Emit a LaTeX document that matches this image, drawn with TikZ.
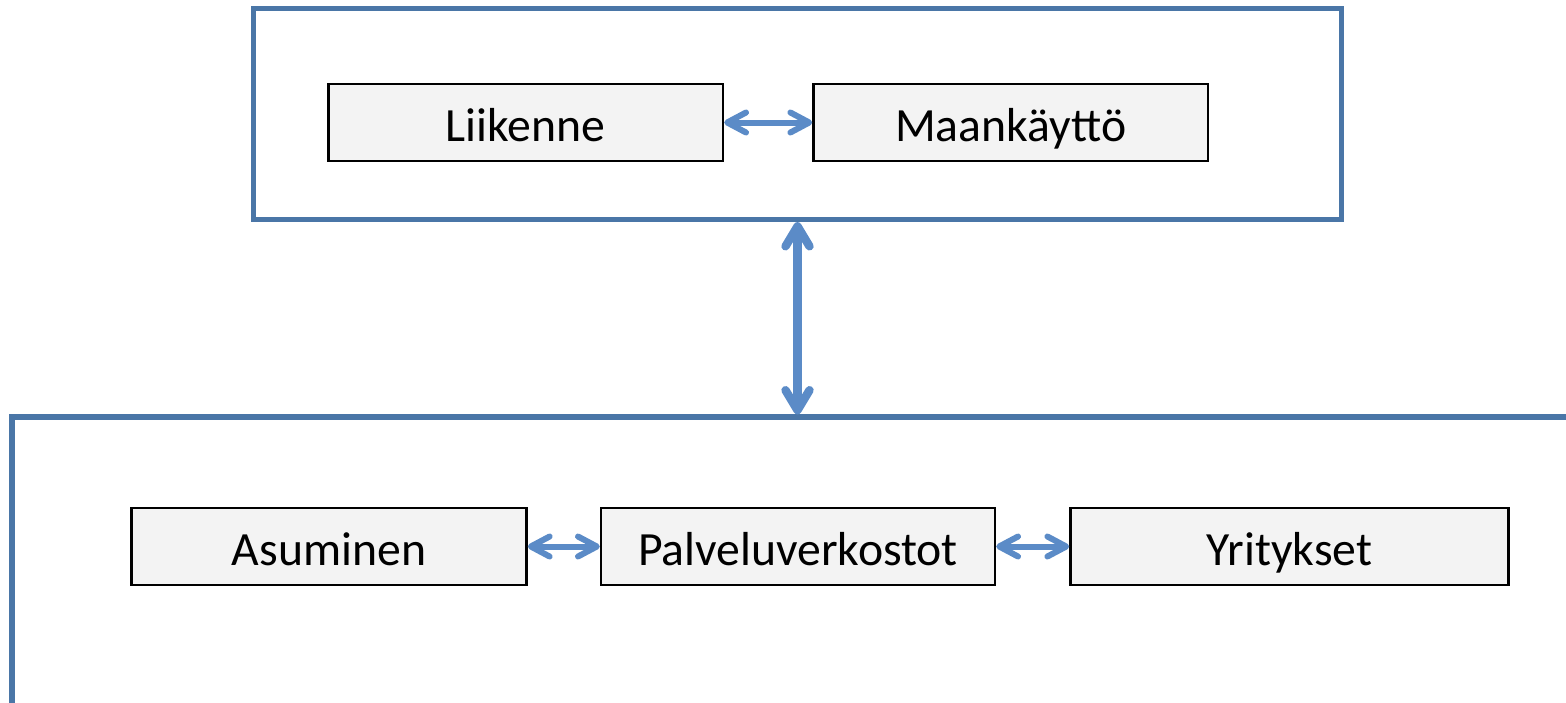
\documentclass[tikz,border=0pt]{standalone}
\usepackage{fontspec}
\setmainfont{Carlito}
\usepackage{tikz}
\usetikzlibrary{positioning,arrows.meta,calc}
\definecolor{frameblue}{HTML}{4A76A7}
\definecolor{linkblue}{HTML}{5B8BC7}
\definecolor{boxgray}{HTML}{F3F3F3}
\tikzset{
  bigframe/.style args={#1,#2}{
  draw=frameblue,
  line width=2.6pt,
  minimum width=#1 pt,
  minimum height=#2 pt,
  inner sep=0pt
  },
  topicbox/.style args={#1,#2}{
  draw=black,
  fill=boxgray,
  line width=1.2pt,
  minimum width=#1 pt,
  minimum height=#2 pt,
  inner sep=0pt,
  text height=22pt,
  text depth=2.8pt,
  font=\fontsize{23.85}{28}\selectfont
  }
}

\begin{document}
\begin{tikzpicture}[x=0.5pt,y=-0.5pt,node distance=45pt,
  link/.style={draw=linkblue,line width=3pt,
    {Straight Barb[length=9.4pt,width=10pt,round]}-{Straight Barb[length=9.4pt,width=10pt,round]}},
  biglink/.style={draw=linkblue,line width=4.2pt,
    {Straight Barb[length=10pt,width=12pt,round]}-{Straight Barb[length=10pt,width=12pt,round]}}]

  \useasboundingbox (0,0) rectangle (1566,702);

  \node [bigframe={544,105.5}] (top) at (797.5,114) {};
  \node [bigframe={794,171.5}] (bot) at (806,588.5) {};

  \node [topicbox={197.25,38.5}] (lii) at (525.75,122.5) {Liikenne};
  \node [topicbox={197.25,38.5},right=44pt of lii] (maa) {Maankäyttö};

  \node [topicbox={197,38.5}] (pal) at (798,546.5) {Palveluverkostot};
  \node [topicbox={197.5,38.5},left=36pt of pal] (asu) {Asuminen};
  \node [topicbox={219,38.5},right=36.5pt of pal] (yri) {Yritykset};

  \draw[link] (lii) -- (maa);
  \draw[link] (asu) -- (pal);
  \draw[link] (pal) -- (yri);
  \draw[biglink] (top.south) -- (top.south |- bot.north);
\end{tikzpicture}
\end{document}
